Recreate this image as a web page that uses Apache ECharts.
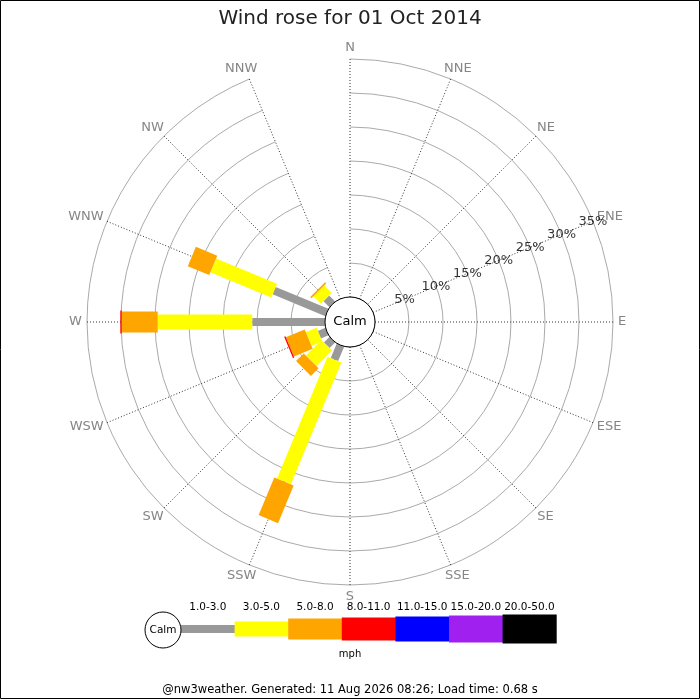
<!DOCTYPE html>
<html>
<head>
<meta charset="utf-8">
<script src="https://cdn.jsdelivr.net/npm/echarts@6/dist/echarts.min.js"></script>
<style>
  html, body { margin: 0; padding: 0; background: #fff; }
  #chart { width: 700px; height: 700px; }
</style>
</head>
<body>
<div id="chart"></div>
<script>
// directions, clockwise from north
const directions = ['N', 'NNE', 'NE', 'ENE', 'E', 'ESE', 'SE', 'SSE',
  'S', 'SSW', 'SW', 'WSW', 'W', 'WNW', 'NW', 'NNW'];

// speed bins (mph) and colours
const speedBins = ['1.0-3.0', '3.0-5.0', '5.0-8.0', '8.0-11.0', '11.0-15.0', '15.0-20.0', '20.0-50.0'];
const binColors = ['#999999', '#ffff00', '#ffa500', '#ff0000', '#0000ff', '#a020f0', '#000000'];

// percent of time per direction, one array per speed bin
const bin1 = [0, 0, 0, 0, 0, 0, 0, 0, 0, 2.3, 1.15, 1.2, 10.7, 8.4, 1.25, 0];
const bin2 = [0, 0, 0, 0, 0, 0, 0, 0, 0, 19.4, 3.25, 1.7, 13.9, 9.7, 1.55, 0];
const bin3 = [0, 0, 0, 0, 0, 0, 0, 0, 0, 6.0, 1.6, 3.0, 5.3, 3.4, 0.25, 0];
const bin4 = [0, 0, 0, 0, 0, 0, 0, 0, 0, 0, 0, 0.2, 0.2, 0, 0, 0];
const bin5 = [0, 0, 0, 0, 0, 0, 0, 0, 0, 0, 0, 0, 0, 0, 0, 0];
const bin6 = [0, 0, 0, 0, 0, 0, 0, 0, 0, 0, 0, 0, 0, 0, 0, 0];
const bin7 = [0, 0, 0, 0, 0, 0, 0, 0, 0, 0, 0, 0, 0, 0, 0, 0];
const bins = [bin1, bin2, bin3, bin4, bin5, bin6, bin7];

// radial ticks
const pctTicks = [5, 10, 15, 20, 25, 30, 35];

const titleText = 'Wind rose for 01 Oct 2014';
const footerText = '@nw3weather. Generated: 11 Aug 2026 08:26; Load time: 0.68 s';

const FONT = 'DejaVu Sans';
const CX = 350, CY = 322, R0 = 25, R1 = 263;
const LABEL_R = 35.75; // radial position of direction labels (just past the 35% ring)
const barWidths = [8, 15, 21, 23, 25, 27, 29];

// stacked segments: [dirIndex, start, end, binIndex]
const segments = [];
directions.forEach(function (d, i) {
  let acc = 0;
  bins.forEach(function (b, k) {
    if (b[i] > 0) {
      segments.push([i, acc, acc + b[i], k]);
      acc += b[i];
    }
  });
});

function renderSegment(params, api) {
  const dir = api.value(0);
  const k = api.value(3);
  const a = api.coord([0, dir]);
  const b = api.coord([35, dir]);
  const len = Math.hypot(b[0] - a[0], b[1] - a[1]);
  const ux = (b[0] - a[0]) / len, uy = (b[1] - a[1]) / len;
  const nx = -uy, ny = ux;
  const p0 = api.coord([api.value(1), dir]);
  const p1 = api.coord([api.value(2), dir]);
  const h = barWidths[k] / 2;
  return {
    type: 'polygon',
    shape: {
      points: [
        [p0[0] + nx * h, p0[1] + ny * h],
        [p1[0] + nx * h, p1[1] + ny * h],
        [p1[0] - nx * h, p1[1] - ny * h],
        [p0[0] - nx * h, p0[1] - ny * h]
      ]
    },
    style: { fill: binColors[k] }
  };
}

// push each direction label outward by half its box, like the original
const measureCtx = document.createElement('canvas').getContext('2d');
measureCtx.font = '13px ' + FONT;
const dirLabelData = directions.map(function (d, i) {
  const ang = i * 22.5 * Math.PI / 180;
  const w = measureCtx.measureText(d).width;
  return {
    value: [LABEL_R, d],
    label: { offset: [Math.sin(ang) * w / 2, -Math.cos(ang) * 6.5] }
  };
});

// legend graphics
const legendGraphic = [];
const legX = 181, legY = 629, legStep = 53.6;
legendGraphic.push({
  type: 'circle', shape: { cx: 163, cy: 630, r: 18 },
  style: { fill: '#fff', stroke: '#000', lineWidth: 1 }, z: 10
});
legendGraphic.push({
  type: 'text', x: 163, y: 630, z: 11,
  style: { text: 'Calm', font: '10.5px ' + FONT, fill: '#000', align: 'center', verticalAlign: 'middle' }
});
speedBins.forEach(function (s, k) {
  const x = legX + k * legStep;
  legendGraphic.push({
    type: 'rect',
    shape: { x: x, y: legY - barWidths[k] / 2, width: legStep + 0.5, height: barWidths[k] },
    style: { fill: binColors[k] }, z: 9
  });
  legendGraphic.push({
    type: 'text', x: x + legStep / 2, y: 607, z: 11,
    style: { text: s, font: '10.5px ' + FONT, fill: '#000', align: 'center', verticalAlign: 'middle' }
  });
});
legendGraphic.push({
  type: 'text', x: 350, y: 654,
  style: { text: 'mph', font: '10px ' + FONT, fill: '#000', align: 'center', verticalAlign: 'middle' }
});

const chart = echarts.init(document.getElementById('chart'), null, { renderer: 'canvas' });
chart.setOption({
  animation: false,
  backgroundColor: '#fff',
  title: {
    text: titleText, left: 'center', top: 4,
    textStyle: { fontFamily: FONT, fontSize: 20, fontWeight: 'normal', color: '#222' }
  },
  polar: { center: [CX, CY], radius: [R0, R1] },
  angleAxis: {
    type: 'category',
    data: directions,
    startAngle: 90,
    clockwise: true,
    boundaryGap: false,
    axisLine: { show: false },
    axisTick: { show: false },
    axisLabel: { show: false },
    splitLine: { show: true, lineStyle: { color: '#333', type: [1, 2], width: 1 } },
    z: 1
  },
  radiusAxis: {
    type: 'value', min: 0, max: 35, interval: 5,
    axisLine: { show: false },
    axisTick: { show: false },
    axisLabel: { show: false },
    splitLine: { show: true, lineStyle: { color: '#aaa', width: 1 } },
    z: 1
  },
  series: [
    {
      type: 'custom',
      coordinateSystem: 'polar',
      renderItem: renderSegment,
      data: segments,
      encode: { radius: [1, 2], angle: 0 },
      clip: false,
      z: 3
    },
    {
      // direction labels just outside the outer ring
      type: 'scatter',
      coordinateSystem: 'polar',
      symbolSize: 0,
      clip: false,
      silent: true,
      data: dirLabelData,
      label: {
        show: true, position: 'inside',
        formatter: function (p) { return p.value[1]; },
        fontFamily: FONT, fontSize: 13, color: '#666'
      },
      z: 4
    },
    {
      // percentage labels along the ENE line
      type: 'scatter',
      coordinateSystem: 'polar',
      symbolSize: 0,
      clip: false,
      silent: true,
      data: pctTicks.map(function (t) { return [t, 'ENE']; }),
      label: {
        show: true, position: 'inside',
        formatter: function (p) { return p.data[0] + '%'; },
        fontFamily: FONT, fontSize: 13, color: '#000'
      },
      z: 5
    }
  ],
  graphic: [
    {
      type: 'rect', shape: { x: 0.5, y: 0.5, width: 699, height: 698 },
      style: { fill: null, stroke: '#000', lineWidth: 1 }, z: 20
    },
    {
      type: 'circle', shape: { cx: CX, cy: CY, r: R0 },
      style: { fill: '#fff', stroke: '#000', lineWidth: 1 }, z: 10
    },
    {
      type: 'text', x: CX, y: CY, z: 11,
      style: { text: 'Calm', font: '13px ' + FONT, fill: '#000', align: 'center', verticalAlign: 'middle' }
    },
    {
      type: 'text', x: 350, y: 690,
      style: { text: footerText, font: '11.5px ' + FONT, fill: '#000', align: 'center', verticalAlign: 'middle' }
    }
  ].concat(legendGraphic)
});
</script>
</body>
</html>
